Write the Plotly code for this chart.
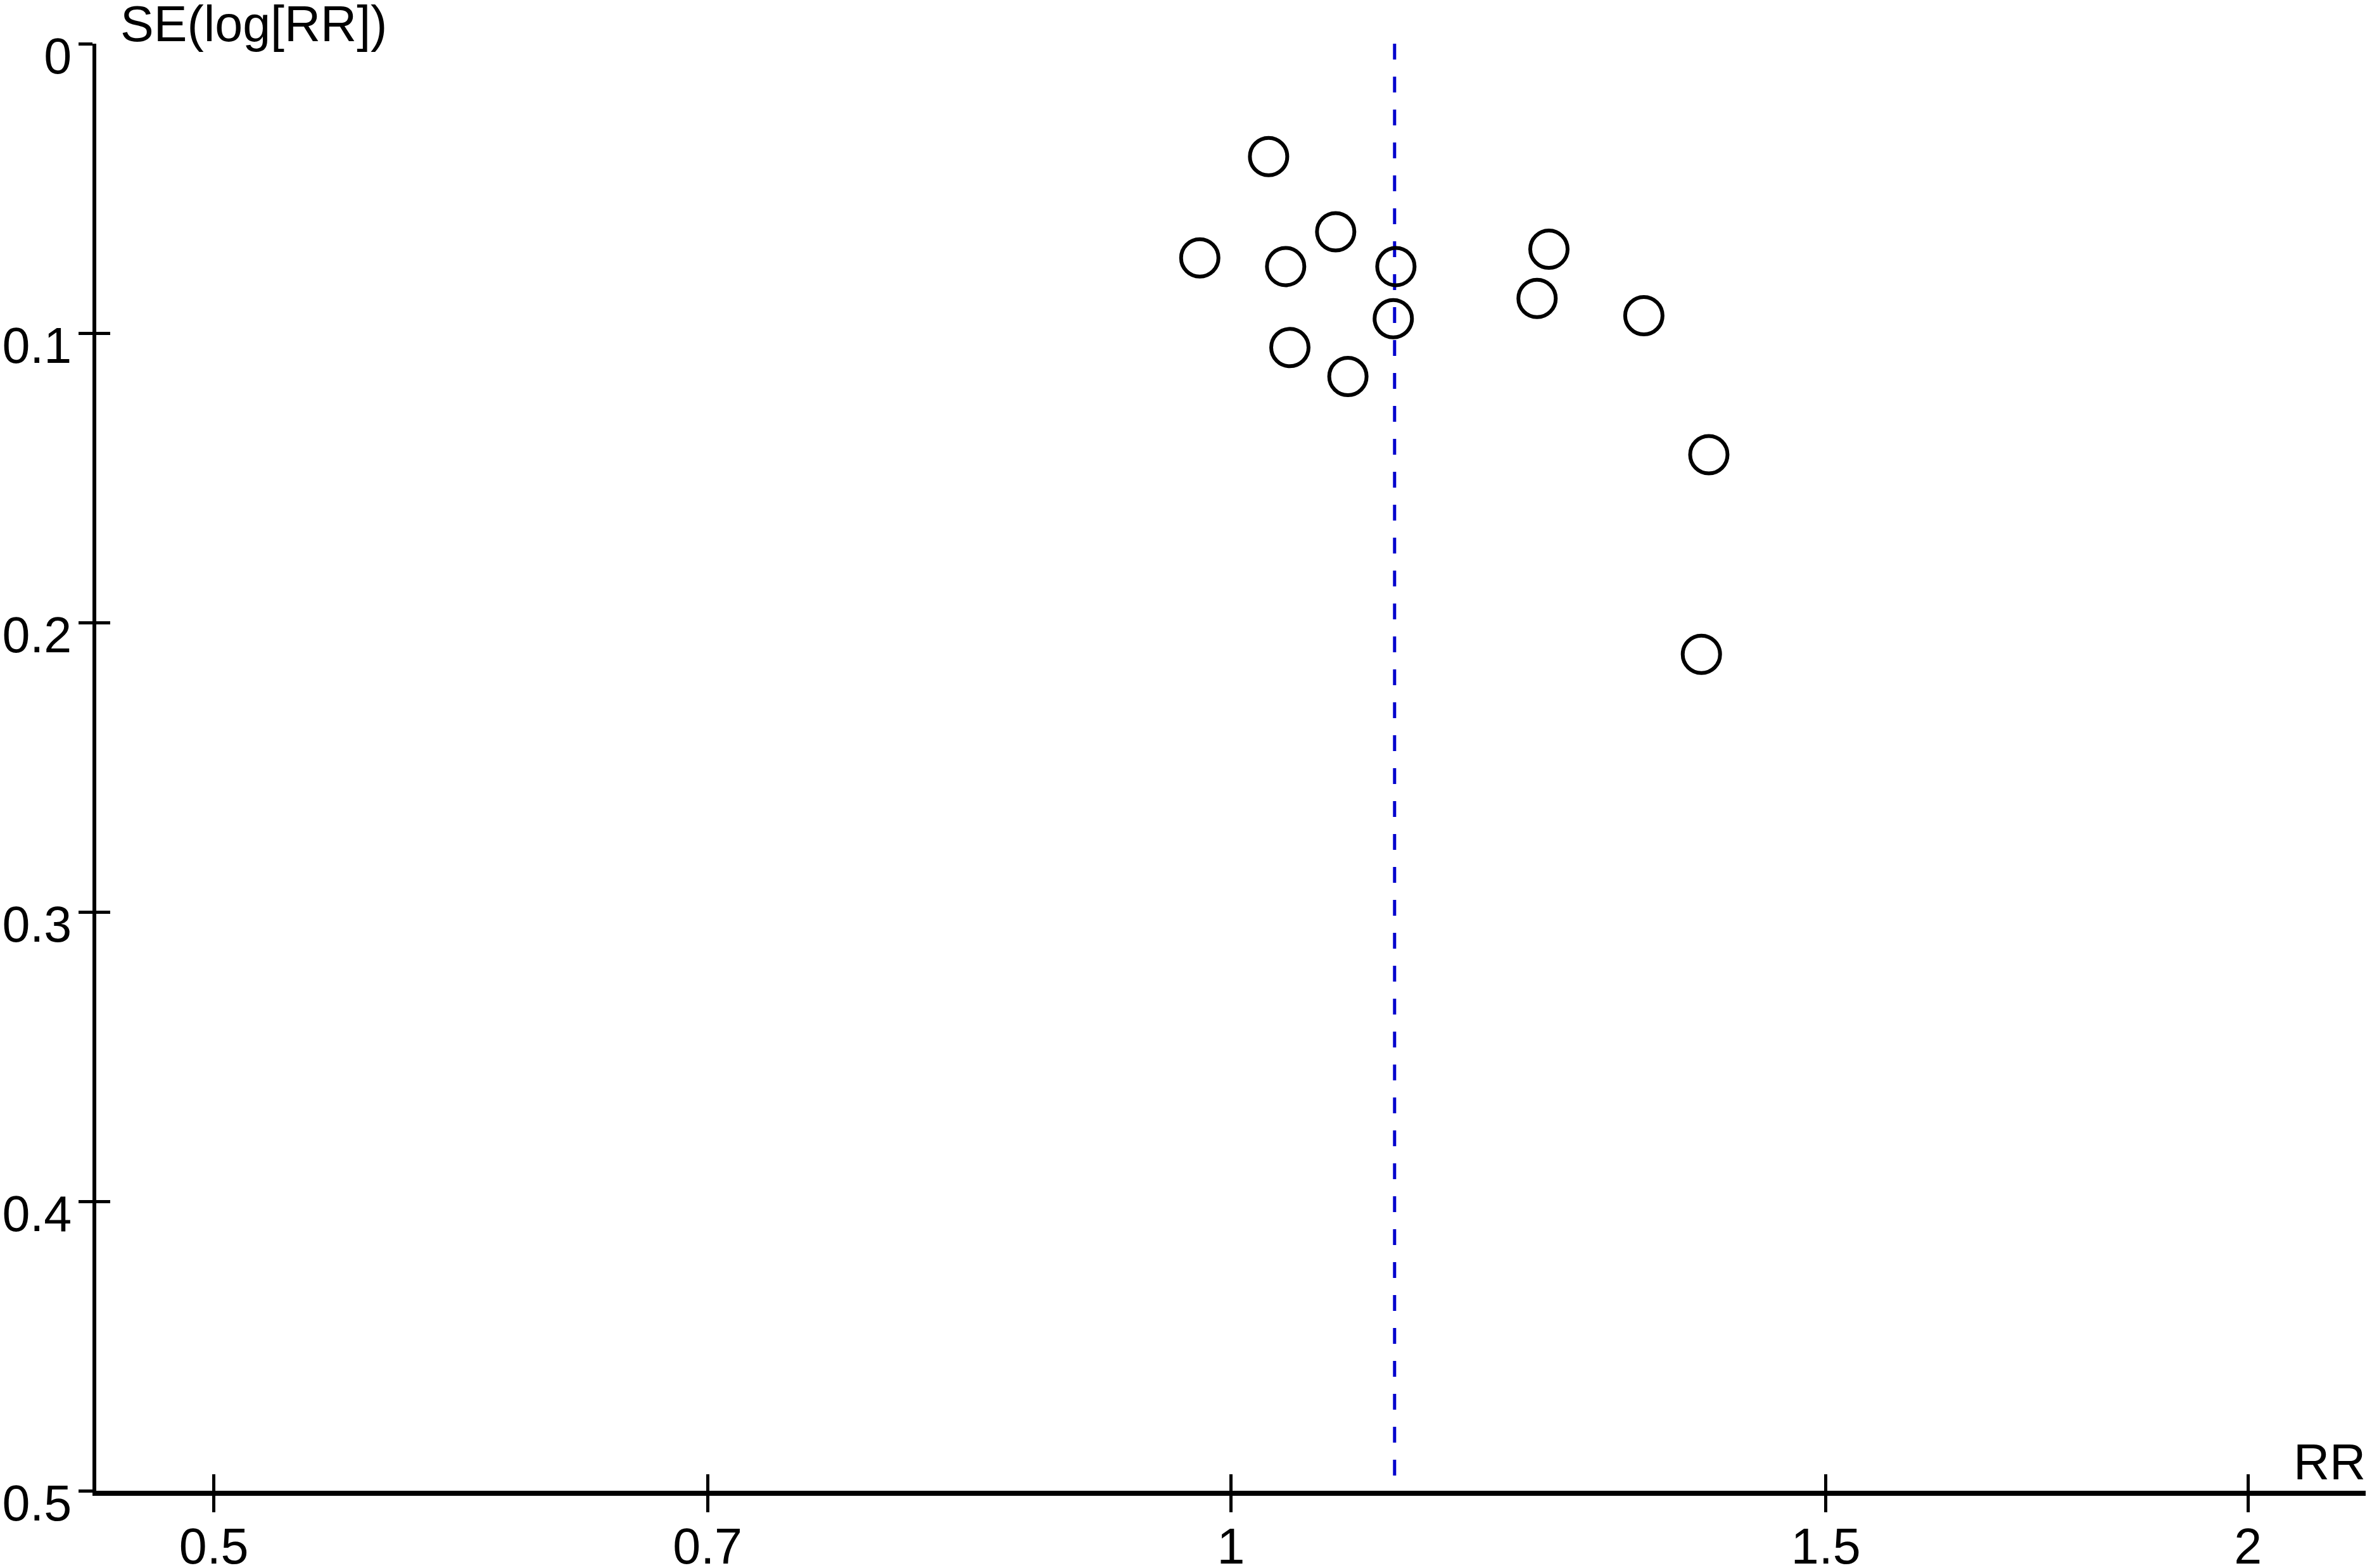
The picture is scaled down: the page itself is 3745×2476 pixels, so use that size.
import plotly.graph_objects as go
import math

# Study estimates
rr_values = [1.026, 0.979, 1.074, 1.038, 1.119, 1.242, 1.232, 1.325, 1.117, 1.041, 1.083, 1.385, 1.378]
se_values = [0.039, 0.074, 0.065, 0.077, 0.077, 0.071, 0.088, 0.094, 0.095, 0.105, 0.115, 0.142, 0.211]
pooled_rr = 1.118
pooled_line_se = [0.0, 0.495]

x_tick_vals = [0.5, 0.7, 1, 1.5, 2]
x_tick_text = ["0.5", "0.7", "1", "1.5", "2"]
y_tick_vals = [0, 0.1, 0.2, 0.3, 0.4, 0.5]
y_tick_text = ["0", "0.1", "0.2", "0.3", "0.4", "0.5"]

x_range = [math.log10(0.4615), math.log10(2.167)]
y_range = [0.5, 0.0]

FONT = "Liberation Sans, Arial, sans-serif"
fs = 79

fig = go.Figure()
fig.add_trace(go.Scatter(
    x=[pooled_rr, pooled_rr], y=pooled_line_se, mode="lines",
    line=dict(color="#0000CD", width=5, dash="25px,27px"),
    showlegend=False, hoverinfo="skip"))
fig.add_trace(go.Scatter(
    x=rr_values, y=se_values, mode="markers",
    marker=dict(symbol="circle-open", size=59, color="black", line=dict(color="black", width=6)),
    showlegend=False))

common_x = dict(type="log", range=x_range, tickvals=x_tick_vals, showgrid=False, zeroline=False, automargin=False)
common_y = dict(range=y_range, tickvals=y_tick_vals, showgrid=False, zeroline=False, automargin=False)

fig.update_layout(
    width=3745, height=2476,
    paper_bgcolor="white", plot_bgcolor="white",
    margin=dict(l=152, r=10, t=69, b=122),
    font=dict(family=FONT, size=fs, color="black"),
    xaxis=dict(**common_x, ticktext=x_tick_text, ticks="outside", ticklen=26, tickwidth=5,
               tickcolor="black", showline=True, linecolor="black", linewidth=8,
               ticklabelstandoff=-14,
               tickfont=dict(family=FONT, size=fs, color="black")),
    xaxis2=dict(**common_x, overlaying="x", anchor="y", ticks="inside", ticklen=26, tickwidth=5,
                tickcolor="black", showticklabels=False, showline=False, side="bottom"),
    yaxis=dict(**common_y, ticktext=y_tick_text, ticks="outside", ticklen=22, tickwidth=5,
               tickcolor="black", showline=True, linecolor="black", linewidth=6,
               ticklabelshift=-19, ticklabelstandoff=-5,
               tickfont=dict(family=FONT, size=fs, color="black")),
    yaxis2=dict(**common_y, overlaying="y", anchor="x", ticks="inside", ticklen=22, tickwidth=5,
                tickcolor="black", showticklabels=False, showline=False, side="left"),
    annotations=[
        dict(text="SE(log[RR])", xref="paper", yref="paper", x=0, y=1, xanchor="left", yanchor="middle",
             xshift=36, yshift=32, showarrow=False, font=dict(family=FONT, size=fs, color="black")),
        dict(text="RR", xref="paper", yref="paper", x=1, y=0, xanchor="right", yanchor="middle",
             xshift=2, yshift=46, showarrow=False, font=dict(family=FONT, size=fs, color="black")),
    ],
)
fig.add_trace(go.Scatter(x=[1], y=[0.25], xaxis="x2", yaxis="y2", mode="markers",
                         marker=dict(opacity=0), showlegend=False, hoverinfo="skip"))

fig.write_html("out.html", config={"displayModeBar": False},
               post_script="document.body.style.margin='0';")
